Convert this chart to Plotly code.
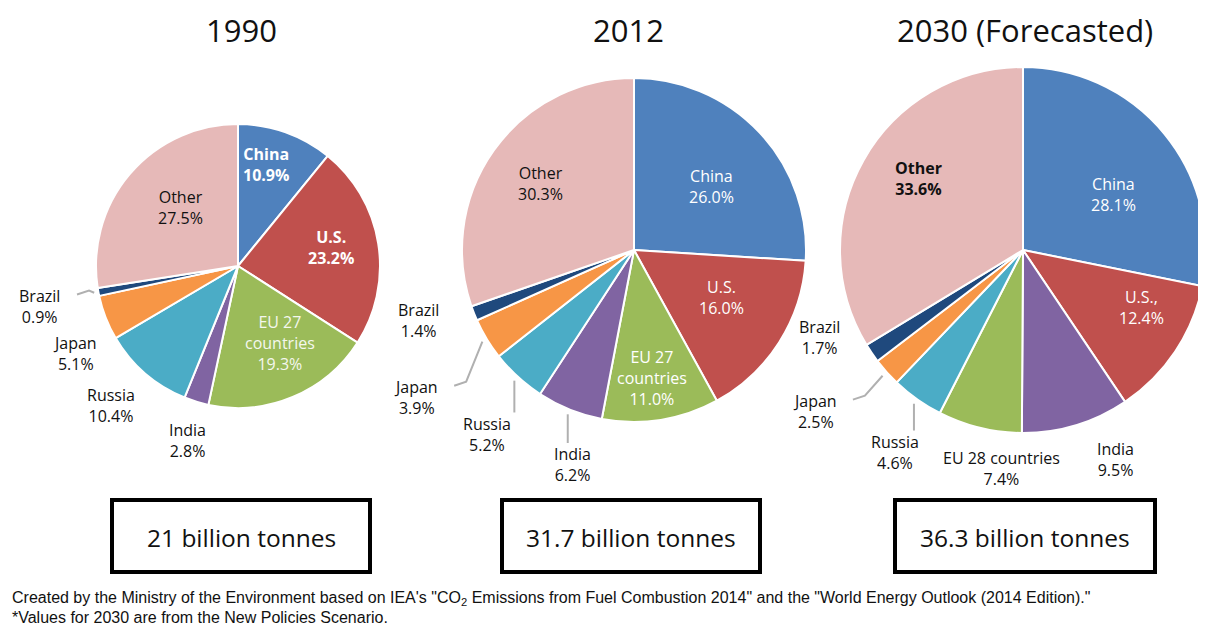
import math
import plotly.graph_objects as go

# ---------------- data ----------------
titles = ["1990", "2012", "2030 (Forecasted)"]
totals = ["21 billion tonnes", "31.7 billion tonnes", "36.3 billion tonnes"]

countries_1990 = ["China", "U.S.", "EU 27 countries", "India", "Russia", "Japan", "Brazil", "Other"]
values_1990 = [10.9, 23.2, 19.3, 2.8, 10.4, 5.1, 0.9, 27.5]

countries_2012 = ["China", "U.S.", "EU 27 countries", "India", "Russia", "Japan", "Brazil", "Other"]
values_2012 = [26.0, 16.0, 11.0, 6.2, 5.2, 3.9, 1.4, 30.3]

countries_2030 = ["China", "U.S.,", "India", "EU 28 countries", "Russia", "Japan", "Brazil", "Other"]
values_2030 = [28.1, 12.4, 9.5, 7.4, 4.6, 2.5, 1.7, 33.6]

footer_1 = ('Created by the Ministry of the Environment based on IEA\'s "CO<sub>2</sub> Emissions from Fuel '
            'Combustion 2014" and the "World Energy Outlook (2014 Edition)."')
footer_2 = "*Values for 2030 are from the New Policies Scenario."

# ---------------- style ----------------
SW, SH = 1206, 625        # browser window
OFF = 8                   # page body margin
W, H = SW - OFF, SH - OFF # figure size
FONT = "Open Sans, Noto Sans, DejaVu Sans, sans-serif"
colors = {
    "China": "#4F81BD", "U.S.": "#C0504D", "U.S.,": "#C0504D",
    "EU 27 countries": "#9BBB59", "EU 28 countries": "#9BBB59",
    "India": "#8064A2", "Russia": "#4BACC6", "Japan": "#F79646",
    "Brazil": "#1F497D", "Other": "#E6B9B8",
}

# pie geometry in screen pixels: (center x, center y, radius)
geoms = [(238, 266, 142), (634, 250, 172), (1023, 250, 183)]

# label layout per slice: display text, radial factor, angle offset (deg), colour, bold, leader
label_styles = [
    {
        "China": ("China", 0.74, -4, "white", True, False),
        "U.S.": ("U.S.", 0.67, -2, "white", True, False),
        "EU 27 countries": ("EU 27<br>countries", 0.62, -6, "#F4F7EE", False, False),
        "India": ("India", 1.28, -1, "#111", False, False),
        "Russia": ("Russia", 1.33, 1.6, "#111", False, False),
        "Japan": ("Japan", 1.30, -7, "#111", False, False),
        "Brazil": ("Brazil", 1.43, -1, "#111", False, True),
        "Other": ("Other", 0.58, 5, "#111", False, False),
    },
    {
        "China": ("China", 0.58, 4, "white", False, False),
        "U.S.": ("U.S.", 0.58, -4, "white", False, False),
        "EU 27 countries": ("EU 27<br>countries", 0.75, 1, "white", False, False),
        "India": ("India", 1.30, -6, "#111", False, True),
        "Russia": ("Russia", 1.37, -4, "#111", False, True),
        "Japan": ("Japan", 1.53, -3, "#111", False, True),
        "Brazil": ("Brazil", 1.32, 3.6, "#111", False, False),
        "Other": ("Other", 0.67, 0, "#111", False, False),
    },
    {
        "China": ("China", 0.58, 8, "white", False, False),
        "U.S.,": ("U.S.,", 0.72, -8, "white", False, False),
        "India": ("India", 1.25, -7, "#111", False, False),
        "EU 28 countries": ("EU 28 countries", 1.20, -8, "#111", False, False),
        "Russia": ("Russia", 1.31, -3, "#111", False, True),
        "Japan": ("Japan", 1.44, 4, "#111", False, True),
        "Brazil": ("Brazil", 1.21, 11, "#111", False, False),
        "Other": ("Other", 0.69, 5, "#111", True, False),
    },
]

datasets = [(countries_1990, values_1990), (countries_2012, values_2012), (countries_2030, values_2030)]


def px(x):
    return min(1.0, max(0.0, (x - OFF) / W))


def py(y):
    return min(1.0, max(0.0, 1 - (y - OFF) / H))


fig = go.Figure()
annotations = []
shapes = []

for i, ((names, vals), (cx, cy, r)) in enumerate(zip(datasets, geoms)):
    fig.add_trace(go.Pie(
        labels=names, values=vals, sort=False, direction="clockwise", rotation=0,
        marker=dict(colors=[colors[n] for n in names], line=dict(color="white", width=2)),
        textinfo="none", hoverinfo="label+value", showlegend=False,
        domain=dict(x=[px(cx - r), px(cx + r)], y=[py(cy + r), py(cy - r)]),
    ))
    total = sum(vals)
    cum = 0.0
    for n, v in zip(names, vals):
        mid = (cum + v / 2) / total * 360.0
        cum += v
        text, f, dth, col, bold, leader = label_styles[i][n]
        ang = math.radians(mid + dth)
        lx = cx + f * r * math.sin(ang)
        ly = cy - f * r * math.cos(ang)
        body = f"{text}<br>{v:.1f}%"
        if bold:
            body = "<b>" + body + "</b>"
        annotations.append(dict(
            x=px(lx), y=py(ly), xref="paper", yref="paper", text=body, showarrow=False,
            font=dict(family=FONT, size=16, color=col), align="center",
            xanchor="center", yanchor="middle",
        ))
        if leader:
            a0 = math.radians(mid)
            sx = cx + 1.03 * r * math.sin(a0)
            sy = cy - 1.03 * r * math.cos(a0)
            if lx < sx - 40:
                ex, ey = lx + 38, ly - 12
                mx, my = ex + 12, ey - 4
                path = f"M {px(sx)},{py(sy)} L {px(mx)},{py(my)} L {px(ex)},{py(ey)}"
            else:
                ex, ey = sx, ly - 22
                path = f"M {px(sx)},{py(sy)} L {px(ex)},{py(ey)}"
            shapes.append(dict(type="path", xref="paper", yref="paper", path=path,
                               line=dict(color="#B0B0B0", width=2)))

# titles and total boxes
title_x = [241, 628, 1025]
box_x = [(112, 370), (502, 760), (895, 1155)]
for t, tx in zip(titles, title_x):
    annotations.append(dict(x=px(tx), y=py(30), xref="paper", yref="paper", text=t, showarrow=False,
                            font=dict(family=FONT, size=31, color="#111"), xanchor="center", yanchor="middle"))
for tot, (x0, x1) in zip(totals, box_x):
    shapes.append(dict(type="rect", xref="paper", yref="paper", x0=px(x0), x1=px(x1), y0=py(572), y1=py(500),
                       line=dict(color="black", width=4), fillcolor="white"))
    annotations.append(dict(x=px((x0 + x1) / 2), y=py(537), xref="paper", yref="paper", text=tot,
                            showarrow=False, font=dict(family=FONT, size=24.5, color="#111"),
                            xanchor="center", yanchor="middle"))

FOOT = "Liberation Sans, Arial, sans-serif"
annotations.append(dict(x=px(10), y=py(598), xref="paper", yref="paper", text=footer_1, showarrow=False,
                        font=dict(family=FOOT, size=16, color="#111"), xanchor="left", yanchor="middle"))
annotations.append(dict(x=px(10), y=py(617), xref="paper", yref="paper", text=footer_2, showarrow=False,
                        font=dict(family=FOOT, size=16, color="#111"), xanchor="left", yanchor="middle"))

fig.update_layout(
    width=W, height=H, margin=dict(l=0, r=0, t=0, b=0),
    paper_bgcolor="white", plot_bgcolor="white",
    annotations=annotations, shapes=shapes,
)
fig.write_html("out.html")
